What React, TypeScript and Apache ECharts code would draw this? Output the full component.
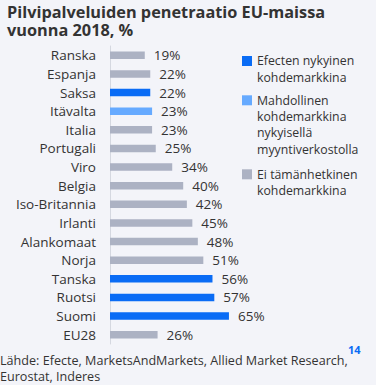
import React, { useEffect, useRef } from "react";
import * as echarts from "echarts";

const categories = ["Ranska", "Espanja", "Saksa", "Itävalta", "Italia", "Portugali", "Viro", "Belgia", "Iso-Britannia", "Irlanti", "Alankomaat", "Norja", "Tanska", "Ruotsi", "Suomi", "EU28"];
const values = [19, 22, 22, 23, 23, 25, 34, 40, 42, 45, 48, 51, 56, 57, 65, 26];
// 0 = current target market, 1 = possible, 2 = not current
const groups = [2, 2, 0, 1, 2, 2, 2, 2, 2, 2, 2, 2, 0, 0, 0, 2];
const groupColors = ["#0a6cf5", "#66aaff", "#acb2c3"];
const legendLabels = ["Efecten nykyinen\nkohdemarkkina", "Mahdollinen\nkohdemarkkina\nnykyisellä\nmyyntiverkostolla", "Ei tämänhetkinen\nkohdemarkkina"];
const titleLines = ["Pilvipalveluiden penetraatio EU-maissa", "vuonna 2018, %"];
const sourceLines = ["Lähde: Efecte, MarketsAndMarkets, Allied Market Research,", "Eurostat, Inderes"];
const pageNumber = "14";

const FONT = "'Open Sans', sans-serif";

export default function App() {
  const ref = useRef<HTMLDivElement>(null);
  useEffect(() => {
    if (!ref.current) return;
    const chart = echarts.init(ref.current, null, { renderer: "svg" });
    const legendTops = [52.5, 91.8, 165.8];
    const legendGraphics: any[] = [];
    legendLabels.forEach((l, i) => {
      legendGraphics.push({
        type: "rect",
        shape: { x: 242, y: legendTops[i] + 3.5, width: 10, height: 10 },
        style: { fill: groupColors[i] },
      });
      legendGraphics.push({
        type: "text",
        x: 257,
        y: legendTops[i],
        style: { text: l, fontSize: 12.3, lineHeight: 16.4, fill: "#333", fontFamily: FONT, verticalAlign: "top" },
      });
    });
    chart.setOption({
      animation: false,
      backgroundColor: "#f3f4f9",
      grid: { left: 110, top: 46, width: 183, height: 298 },
      xAxis: { type: "value", min: 0, max: 100, show: false },
      yAxis: {
        type: "category",
        data: categories,
        inverse: true,
        axisLine: { show: true, lineStyle: { color: "#d5d8e0", width: 1 } },
        axisTick: { show: false },
        axisLabel: { fontSize: 13.5, color: "#333", margin: 14, fontFamily: FONT },
      },
      series: [
        {
          type: "bar",
          barWidth: 7.5,
          data: values.map((v, i) => ({ value: v, itemStyle: { color: groupColors[groups[i]] } })),
          label: { show: true, position: "right", distance: 9, formatter: "{c}%", fontSize: 13.5, color: "#333", fontFamily: FONT },
        },
      ],
      graphic: [
        ...titleLines.map((t, i) => ({
          type: "text",
          x: 7,
          y: 11.5 + i * 18.6,
          style: { text: t, fontSize: 16.3, lineHeight: 18, fontWeight: "bold", fill: "#333", fontFamily: FONT, verticalAlign: "middle" },
        })),
        ...legendGraphics,
        ...sourceLines.map((t, i) => ({
          type: "text",
          x: 0,
          y: 360.7 + i * 15.4,
          style: { text: t, fontSize: 12.6, lineHeight: 15, fill: "#333", fontFamily: FONT, verticalAlign: "middle" },
        })),
        {
          type: "text",
          x: 348,
          y: 349.5,
          style: { text: pageNumber, fontSize: 11, lineHeight: 11, fontWeight: "bold", fill: "#0a6cf5", fontFamily: FONT, verticalAlign: "middle" },
        },
      ],
    });
    return () => chart.dispose();
  }, []);
  return <div ref={ref} style={{ position: "fixed", left: 0, top: 0, width: 376, height: 385 }} />;
}
